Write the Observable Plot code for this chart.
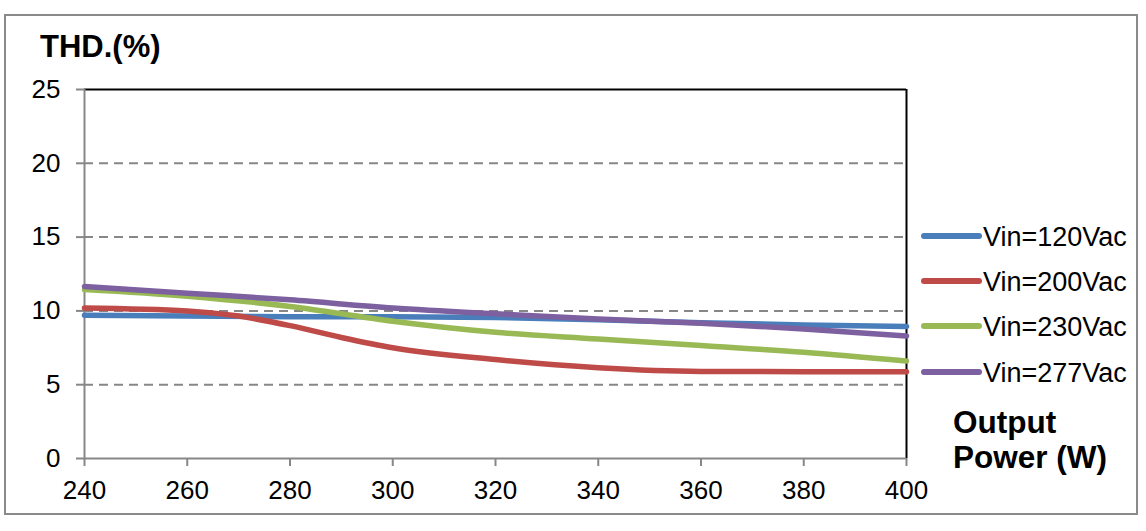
<!DOCTYPE html>
<html>
<head>
<meta charset="utf-8">
<script src="https://cdn.jsdelivr.net/npm/d3@7"></script>
<script src="https://cdn.jsdelivr.net/npm/@observablehq/plot@0.6"></script>
<style>
  html, body { margin: 0; padding: 0; background: #fff; }
  #chart { position: relative; width: 1146px; height: 531px; }
</style>
</head>
<body>
<div id="chart"></div>
<script>
const seriesNames = ["Vin=120Vac", "Vin=200Vac", "Vin=230Vac", "Vin=277Vac"];
const seriesColors = ["#4A7EBB", "#BE4B48", "#98B954", "#7D60A0"];

const powerBlue   = [240, 260, 280, 300, 320, 340, 360, 380, 400];
const thdBlue     = [9.7, 9.65, 9.6, 9.6, 9.55, 9.4, 9.2, 9.05, 8.95];

const powerRed    = [240, 260, 270, 280, 290, 300, 320, 340, 360, 380, 400];
const thdRed      = [10.2, 10.0, 9.65, 9.0, 8.2, 7.5, 6.7, 6.15, 5.9, 5.88, 5.88];

const powerGreen  = [240, 260, 280, 300, 320, 340, 360, 380, 400];
const thdGreen    = [11.45, 11.0, 10.3, 9.3, 8.55, 8.1, 7.65, 7.2, 6.6];

const powerPurple = [240, 260, 280, 300, 320, 340, 360, 380, 400];
const thdPurple   = [11.65, 11.2, 10.75, 10.2, 9.8, 9.45, 9.17, 8.78, 8.3];

const xTicks = [240, 260, 280, 300, 320, 340, 360, 380, 400];
const yTicks = [0, 5, 10, 15, 20, 25];
const gridValues = [5, 10, 15, 20];

const yLabel = "THD.(%)";
const xLabelLines = ["Output", "Power (W)"];

const seriesX = [powerBlue, powerRed, powerGreen, powerPurple];
const seriesY = [thdBlue, thdRed, thdGreen, thdPurple];
const data = [];
seriesNames.forEach((name, i) => {
  seriesX[i].forEach((x, j) => data.push({series: name, x, y: seriesY[i][j]}));
});

const gray = "#878787";
const font = "'Liberation Sans', Arial, sans-serif";

const chart = Plot.plot({
  width: 1146,
  height: 531,
  marginLeft: 84,
  marginRight: 240,
  marginTop: 89,
  marginBottom: 73,
  style: {fontFamily: font, fontSize: "26px", color: "#000", background: "#fff", overflow: "visible"},
  x: {domain: [240, 400], label: null},
  y: {domain: [0, 25], label: null},
  color: {domain: seriesNames, range: seriesColors},
  marks: [
    Plot.ruleY(gridValues, {stroke: gray, strokeWidth: 2, strokeDasharray: "9,6"}),
    Plot.axisX({ticks: xTicks, tickFormat: d => String(d), tickSize: 8, tickPadding: 14, stroke: gray, strokeWidth: 2, fontSize: 26, fill: "#000", label: null}),
    Plot.axisY({ticks: yTicks, tickFormat: d => String(d), tickSize: 8, tickPadding: 16, stroke: gray, strokeWidth: 2, fontSize: 26, fill: "#000", label: null}),
    Plot.ruleY([25], {stroke: "#000", strokeWidth: 2}),
    Plot.ruleX([400], {stroke: "#000", strokeWidth: 2}),
    Plot.ruleX([240], {stroke: gray, strokeWidth: 2}),
    Plot.ruleY([0], {stroke: gray, strokeWidth: 2}),
    Plot.line(data, {x: "x", y: "y", z: "series", stroke: "series", strokeWidth: 5.5, curve: "monotone-x"})
  ]
});

document.getElementById("chart").appendChild(chart);

const svg = d3.select(chart);
// outer frame
svg.append("rect")
  .attr("x", 5).attr("y", 15).attr("width", 1132).attr("height", 499)
  .attr("fill", "none").attr("stroke", "#8a8a8a").attr("stroke-width", 2);

// y-axis title
svg.append("text")
  .attr("x", 40).attr("y", 57).attr("text-anchor", "start")
  .attr("font-family", font).attr("font-size", 31).attr("font-weight", "bold")
  .attr("fill", "#000").text(yLabel);

// legend
const legendY = [236, 281, 326, 372];
seriesNames.forEach((name, i) => {
  svg.append("line")
    .attr("x1", 924).attr("x2", 979)
    .attr("y1", legendY[i]).attr("y2", legendY[i])
    .attr("stroke", seriesColors[i]).attr("stroke-width", 6).attr("stroke-linecap", "round");
  svg.append("text")
    .attr("x", 983).attr("y", legendY[i] + 9.5).attr("text-anchor", "start")
    .attr("font-family", font).attr("font-size", 27)
    .attr("fill", "#000").text(name);
});

// x-axis title
const xTitleBase = [433, 468];
xLabelLines.forEach((t, i) => {
  svg.append("text")
    .attr("x", 953).attr("y", xTitleBase[i]).attr("text-anchor", "start")
    .attr("font-family", font).attr("font-size", 31.5).attr("font-weight", "bold")
    .attr("fill", "#000").text(t);
});
</script>
</body>
</html>
